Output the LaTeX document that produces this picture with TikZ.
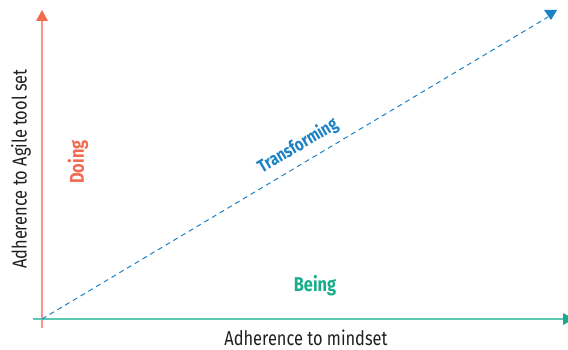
\documentclass[tikz,border=0pt]{standalone}
\usepackage{fontspec}
\setmainfont{Fira Sans}[FakeStretch=0.82]
\definecolor{vline}{HTML}{F39A8A}
\definecolor{vtip}{HTML}{F26A4F}
\definecolor{hline}{HTML}{5CC8B0}
\definecolor{htip}{HTML}{17AD8C}
\definecolor{dblue}{HTML}{1B82C6}
\definecolor{ink}{HTML}{231F20}
\begin{document}
\begin{tikzpicture}[x=1pt,y=-1pt,
  axislabel/.style={text=ink,font=\fontsize{20}{20}\selectfont,inner sep=0pt},
  zonelabel/.style={font=\fontsize{20}{20}\selectfont\bfseries,inner sep=0pt}]
\useasboundingbox (0,0) rectangle (568,350);
% coordinates
\coordinate (vbot) at (42,328);
\coordinate (vtop) at (42,21);
\coordinate (hleft) at (33,319);
\coordinate (hright) at (564,319);
\coordinate (origin) at (42,319);
\coordinate (dend) at (548,17);
% vertical axis
\draw[vline,line width=2pt] (vbot) -- (vtop);
\fill[vtip] (36,21) -- (48,21) -- (42,10) -- cycle;
% horizontal axis
\draw[hline,line width=2pt] (hleft) -- (hright);
\fill[htip] (563,313) -- (563,325) -- (574,319) -- cycle;
% diagonal
\draw[dblue,line width=1pt,dash pattern=on 5pt off 4pt] (origin) -- (dend);
\fill[dblue] (544,10) -- (557,10) -- (551,20) -- cycle;
% labels
\node[axislabel] (xl) at (306,338) {Adherence to mindset};
\node[axislabel,rotate=90] (yl) at (21,169) {Adherence to Agile tool set};
\node[zonelabel,text=vtip,rotate=90] (doing) at (78,162) {Doing};
\node[zonelabel,text=htip] (being) at (315,286) {Being};
\node[zonelabel,text=dblue,rotate=30.8,font=\fontsize{18}{18}\selectfont\bfseries] (trans) at (298,146) {Transforming};
\end{tikzpicture}
\end{document}
